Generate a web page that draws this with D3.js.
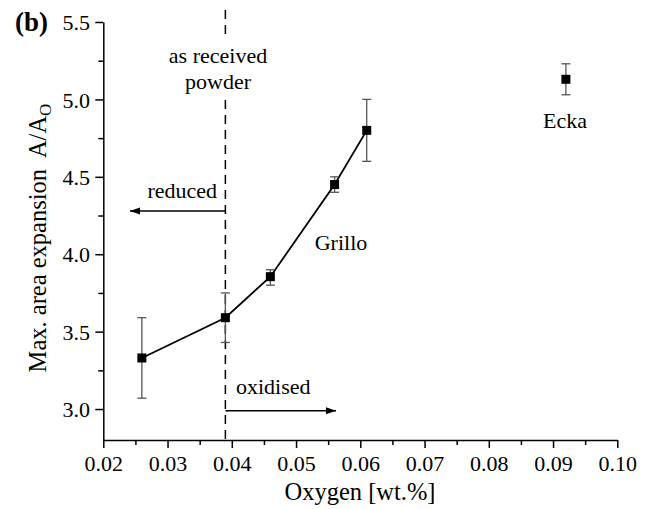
<!DOCTYPE html>
<html><head><meta charset="utf-8">
<script src="https://cdn.jsdelivr.net/npm/d3@7"></script>
<style>body{margin:0;background:#fff}svg{display:block}svg text{font-family:"Liberation Serif","Times New Roman",Times,"DejaVu Serif",serif !important;fill:#000}</style>
</head><body>
<script>
const oxygen = [0.026, 0.039, 0.046, 0.056, 0.061];
const expansion = [3.33, 3.59, 3.855, 4.45, 4.80];
const errLow = [3.07, 3.43, 3.80, 4.40, 4.60];
const errHigh = [3.59, 3.75, 3.90, 4.50, 5.00];
const eckaX = [0.092], eckaY = [5.13], eckaLow = [5.03], eckaHigh = [5.23];
const xTicks = [0.02,0.03,0.04,0.05,0.06,0.07,0.08,0.09,0.10];
const yTicks = [3.0,3.5,4.0,4.5,5.0,5.5];
const asReceived = 0.039;

const W=646,H=509;
const svg=d3.select("body").append("svg").attr("width",W).attr("height",H);
const x=d3.scaleLinear().domain([0.02,0.10]).range([103.3,617.3]);
const y=d3.scaleLinear().domain([2.8,5.5]).range([440,22]);
const fs=22;

// axes
const xMinor=d3.range(0.025,0.1,0.01);
const yMinor=d3.range(3.25,5.5,0.5);
const gx=svg.append("g").attr("transform","translate(0,440)");
gx.call(d3.axisBottom(x).tickValues(xTicks).tickFormat(d3.format(".2f")).tickSize(8).tickSizeOuter(0));
gx.append("g").call(d3.axisBottom(x).tickValues(xMinor).tickFormat("").tickSize(5).tickSizeOuter(0)).select(".domain").remove();
const gy=svg.append("g").attr("transform","translate(103.3,0)");
gy.call(d3.axisLeft(y).tickValues(yTicks).tickFormat(d3.format(".1f")).tickSize(8).tickSizeOuter(0));
gy.append("g").call(d3.axisLeft(y).tickValues(yMinor).tickFormat("").tickSize(5).tickSizeOuter(0)).select(".domain").remove();
svg.selectAll("g").attr("font-family",null).attr("font-size",null);
svg.selectAll(".domain, .tick line").attr("stroke","#000").attr("stroke-width",1.5);
gx.selectAll(".tick text").attr("font-size",fs).attr("dy","0.93em");
gy.selectAll(".tick text").attr("font-size",fs).attr("dx","-0.1em").attr("dy","0.35em");

// axis titles
svg.append("text").attr("x",360).attr("y",500).attr("text-anchor","middle").attr("font-size",24.5).text("Oxygen [wt.%]");
const yl=svg.append("text").attr("transform","translate(46,238) rotate(-90)").attr("text-anchor","middle").attr("font-size",24.5).style("white-space","pre");
yl.append("tspan").text("Max. area expansion  A/A");
yl.append("tspan").attr("font-size",17).attr("dy",5).text("O");
svg.append("text").attr("x",15).attr("y",31).attr("font-size",27).attr("font-weight","bold").text("(b)");

// dashed line (as received)
svg.append("line").attr("x1",x(asReceived)).attr("x2",x(asReceived)).attr("y1",10).attr("y2",440)
  .attr("stroke","#000").attr("stroke-width",1.5).attr("stroke-dasharray","9,6");
svg.append("rect").attr("x",172).attr("y",36).attr("width",110).attr("height",62).attr("fill","#fff");
svg.append("text").attr("x",218).attr("y",63).attr("text-anchor","middle").attr("font-size",fs).text("as received");
svg.append("text").attr("x",218).attr("y",89).attr("text-anchor","middle").attr("font-size",fs).text("powder");

// arrows
const defs=svg.append("defs");
defs.append("marker").attr("id","ah").attr("viewBox","0 0 10 10").attr("refX",10).attr("refY",5)
  .attr("markerWidth",10).attr("markerHeight",10).attr("markerUnits","userSpaceOnUse").attr("orient","auto")
  .append("path").attr("d","M0,1.5L10,5L0,8.5Z").attr("fill","#000");
svg.append("line").attr("x1",x(asReceived)).attr("x2",130).attr("y1",211).attr("y2",211).attr("stroke","#000").attr("stroke-width",1.5).attr("marker-end","url(#ah)");
svg.append("line").attr("x1",x(asReceived)).attr("x2",336).attr("y1",410.7).attr("y2",410.7).attr("stroke","#000").attr("stroke-width",1.5).attr("marker-end","url(#ah)");
svg.append("text").attr("x",217).attr("y",198).attr("text-anchor","end").attr("font-size",fs).text("reduced");
svg.append("text").attr("x",236).attr("y",394).attr("font-size",fs).text("oxidised");

// series line
const pts=oxygen.map((o,i)=>({x:o,y:expansion[i],lo:errLow[i],hi:errHigh[i]}));
const ecka=eckaX.map((o,i)=>({x:o,y:eckaY[i],lo:eckaLow[i],hi:eckaHigh[i]}));
svg.append("path").datum(pts).attr("d",d3.line().x(d=>x(d.x)).y(d=>y(d.y))).attr("fill","none").attr("stroke","#000").attr("stroke-width",1.8);

function errBars(data){
  const g=svg.append("g").attr("stroke","#555").attr("stroke-width",1.3);
  data.forEach(d=>{
    g.append("line").attr("x1",x(d.x)).attr("x2",x(d.x)).attr("y1",y(d.lo)).attr("y2",y(d.hi));
    g.append("line").attr("x1",x(d.x)-4.5).attr("x2",x(d.x)+4.5).attr("y1",y(d.lo)).attr("y2",y(d.lo));
    g.append("line").attr("x1",x(d.x)-4.5).attr("x2",x(d.x)+4.5).attr("y1",y(d.hi)).attr("y2",y(d.hi));
  });
  svg.append("g").selectAll("rect").data(data).join("rect")
    .attr("x",d=>x(d.x)-4.5).attr("y",d=>y(d.y)-4.5).attr("width",9).attr("height",9).attr("fill","#000");
}
errBars(pts);errBars(ecka);

svg.append("text").attr("x",341).attr("y",250).attr("text-anchor","middle").attr("font-size",fs).text("Grillo");
svg.append("text").attr("x",565).attr("y",128).attr("text-anchor","middle").attr("font-size",fs).text("Ecka");
</script>
</body></html>
